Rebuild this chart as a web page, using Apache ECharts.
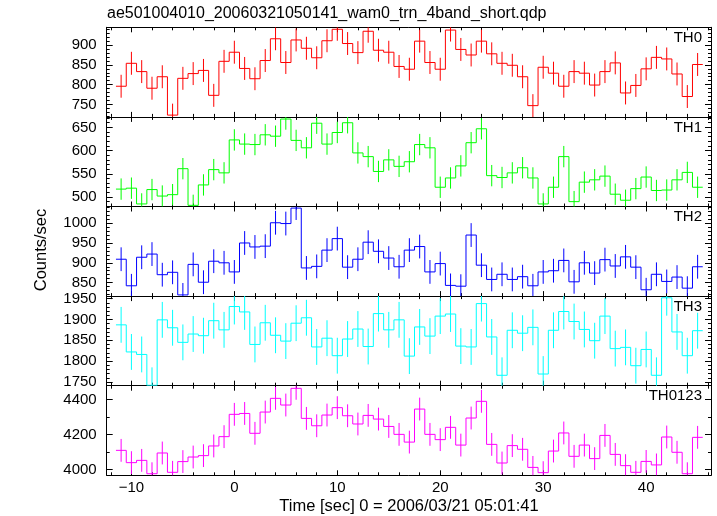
<!DOCTYPE html>
<html><head><meta charset="utf-8">
<script src="https://cdn.jsdelivr.net/npm/echarts@6/dist/echarts.min.js"></script>
<style>html,body{margin:0;padding:0;background:#fff}#c{width:717px;height:516px}</style>
</head><body><div id="c"></div>
<script>
// ---- data ----
const chartTitle = 'ae501004010_20060321050141_wam0_trn_4band_short.qdp';
const xTitle = 'Time [sec] 0 = 2006/03/21 05:01:41';
const yTitle = 'Counts/sec';
const binTimes = [-11,-10,-9,-8,-7,-6,-5,-4,-3,-2,-1,0,1,2,3,4,5,6,7,8,9,10,11,12,13,14,15,16,17,18,19,20,21,22,23,24,25,26,27,28,29,30,31,32,33,34,35,36,37,38,39,40,41,42,43,44,45];
const binWidth = 1;
const th0 = [796,854,833,791,820,723,816,828,836,773,859,882,841,815,861,916,856,913,892,868,911,940,904,881,935,887,882,846,839,910,856,839,938,889,875,910,878,854,849,820,747,844,829,796,833,829,799,833,855,779,798,840,869,865,827,770,851];
const th1 = [517,519,485,516,502,505,561,482,526,559,552,623,614,613,634,631,668,622,606,659,614,639,660,595,587,555,580,566,576,613,606,521,541,567,617,647,546,542,552,563,541,485,521,587,490,532,537,545,506,493,518,543,514,515,537,553,521];
const th2 = [909,842,914,922,870,876,819,896,851,904,900,877,950,940,942,1001,999,1038,887,891,932,961,889,909,952,929,912,890,932,941,877,898,843,841,970,894,858,871,858,865,842,877,880,906,852,900,874,908,892,915,889,832,871,853,864,836,890];
const th3 = [1887,1822,1816,1742,1899,1880,1845,1865,1861,1897,1875,1931,1918,1840,1892,1862,1848,1891,1904,1834,1855,1813,1853,1877,1835,1914,1875,1899,1812,1882,1860,1908,1913,1836,1834,1938,1858,1766,1874,1867,1881,1769,1874,1919,1895,1876,1849,1908,1830,1833,1789,1828,1766,1952,1870,1813,1873];
const th0123 = [4110,4040,4053,3977,4095,3985,4046,4072,4080,4135,4188,4315,4320,4207,4328,4406,4368,4463,4292,4250,4311,4353,4307,4260,4309,4288,4246,4201,4157,4345,4201,4171,4241,4140,4294,4389,4144,4038,4137,4116,4013,3983,4106,4209,4076,4140,4063,4195,4087,4023,3985,4047,4027,4186,4099,3977,4184];
const errorHalf = [29, 23, 30, 43, 65];
const panelNames = ['TH0','TH1','TH2','TH3','TH0123'];
const panelColors = ['#ff0000','#00ff00','#0000ff','#00ffff','#ff00ff'];
const yMin = [718.5, 479.5, 816, 1741, 3968];
const yMax = [945, 672.6, 1042, 1956, 4478];
const yMajorTicks = [[750,800,850,900],[500,550,600,650],[850,900,950,1000],[1750,1800,1850,1900,1950],[4000,4200,4400]];
const yMinorStep = [10,10,10,10,100];
const xMin = -12.4, xMax = 46.3;
const xMajorTicks = [-10,0,10,20,30,40];
const xMinorStep = 2;

// ---- layout ----
const FONT = 'Liberation Sans';
const GRID_LEFT = 106.7, GRID_W = 604.3, GRID_TOP = 27.3, PANEL_H = 89.6;
const allSeries = [th0, th1, th2, th3, th0123];

function stepTicks(lo, hi, step) {
  const out = [];
  for (let v = Math.ceil(lo / step) * step; v <= hi + 1e-9; v += step) out.push(v);
  return out;
}
const xMinorTicks = stepTicks(xMin, xMax, xMinorStep);

function xAx(gi, pos, ticks, len, showLabel, showLine) {
  return {
    type: 'value', gridIndex: gi, position: pos, min: xMin, max: xMax,
    axisLine: { show: showLine, onZero: false, lineStyle: { color: '#000', width: 1 } },
    axisTick: { show: true, inside: true, length: len, customValues: ticks, lineStyle: { color: '#000', width: 1 } },
    axisLabel: { show: showLabel, customValues: xMajorTicks, margin: 5, color: '#000', fontSize: 15, fontFamily: FONT,
      formatter: v => (v < 0 ? '\u2212' + Math.abs(v) : String(v)) },
    splitLine: { show: false }
  };
}
function yAx(gi, pos, ticks, len, showLabel, showLine, p) {
  return {
    type: 'value', gridIndex: gi, position: pos, min: yMin[p], max: yMax[p],
    axisLine: { show: showLine, onZero: false, lineStyle: { color: '#000', width: 1 } },
    axisTick: { show: true, inside: true, length: len, customValues: ticks, lineStyle: { color: '#000', width: 1 } },
    axisLabel: { show: showLabel, customValues: yMajorTicks[p], margin: 10, color: '#000', fontSize: 15, fontFamily: FONT,
      formatter: v => String(v) },
    splitLine: { show: false }
  };
}

function makeRender(color) {
  return function (params, api) {
    const t = api.value(0), v = api.value(1), e = api.value(2), prev = api.value(3);
    const h = binWidth / 2;
    const pL = api.coord([t - h, v]), pR = api.coord([t + h, v]);
    const pP = api.coord([t - h, prev]);
    const eT = api.coord([t, v + e]), eB = api.coord([t, v - e]);
    const st = { stroke: color, lineWidth: 1 };
    return { type: 'group', children: [
      { type: 'line', shape: { x1: pP[0], y1: pP[1], x2: pL[0], y2: pL[1] }, style: st },
      { type: 'line', shape: { x1: pL[0], y1: pL[1], x2: pR[0], y2: pR[1] }, style: st },
      { type: 'line', shape: { x1: eT[0], y1: eT[1], x2: eB[0], y2: eB[1] }, style: st }
    ]};
  };
}

const grids = [], xAxes = [], yAxes = [], seriesOpts = [], graphics = [];
for (let p = 0; p < 5; p++) {
  const top = GRID_TOP + p * PANEL_H;
  grids.push({ left: GRID_LEFT, top: top, width: GRID_W, height: PANEL_H, containLabel: false, outerBoundsMode: 'none', show: false });
  const xb = xAxes.length;
  xAxes.push(xAx(p, 'bottom', xMajorTicks, 5, p === 4, true));
  xAxes.push(xAx(p, 'bottom', xMinorTicks, 3, false, false));
  xAxes.push(xAx(p, 'top', xMajorTicks, 5, false, true));
  xAxes.push(xAx(p, 'top', xMinorTicks, 3, false, false));
  const yb = yAxes.length;
  const minor = stepTicks(yMin[p], yMax[p], yMinorStep[p]);
  yAxes.push(yAx(p, 'left', yMajorTicks[p], 6, true, true, p));
  yAxes.push(yAx(p, 'left', minor, 3, false, false, p));
  yAxes.push(yAx(p, 'right', yMajorTicks[p], 6, false, true, p));
  yAxes.push(yAx(p, 'right', minor, 3, false, false, p));
  const vals = allSeries[p];
  const data = binTimes.map((t, i) => [t, vals[i], errorHalf[p], i > 0 ? vals[i - 1] : vals[i]]);
  seriesOpts.push({ type: 'custom', xAxisIndex: xb, yAxisIndex: yb, clip: true, silent: true,
    renderItem: makeRender(panelColors[p]), data: data });
  graphics.push({ type: 'text', x: 702, y: top + 10.5,
    style: { text: panelNames[p], fill: '#000', fontSize: 15, fontFamily: FONT, textAlign: 'right', align: 'right', textVerticalAlign: 'middle', verticalAlign: 'middle' } });
}
graphics.push({ type: 'text', x: 107, y: 14,
  style: { text: chartTitle, fill: '#000', fontSize: 16, fontFamily: FONT, textAlign: 'left', align: 'left', textVerticalAlign: 'middle', verticalAlign: 'middle' } });
graphics.push({ type: 'text', x: 409, y: 506,
  style: { text: xTitle, fill: '#000', fontSize: 16.5, fontFamily: FONT, textAlign: 'center', align: 'center', textVerticalAlign: 'middle', verticalAlign: 'middle' } });
graphics.push({ type: 'text', x: 41, y: 250, rotation: Math.PI / 2,
  style: { text: yTitle, fill: '#000', fontSize: 16.5, fontFamily: FONT, textAlign: 'center', align: 'center', textVerticalAlign: 'middle', verticalAlign: 'middle' } });

const chart = echarts.init(document.getElementById('c'), null, { renderer: 'canvas', width: 717, height: 516 });
chart.setOption({
  animation: false,
  backgroundColor: '#fff',
  grid: grids, xAxis: xAxes, yAxis: yAxes, series: seriesOpts, graphic: graphics
});
</script></body></html>
